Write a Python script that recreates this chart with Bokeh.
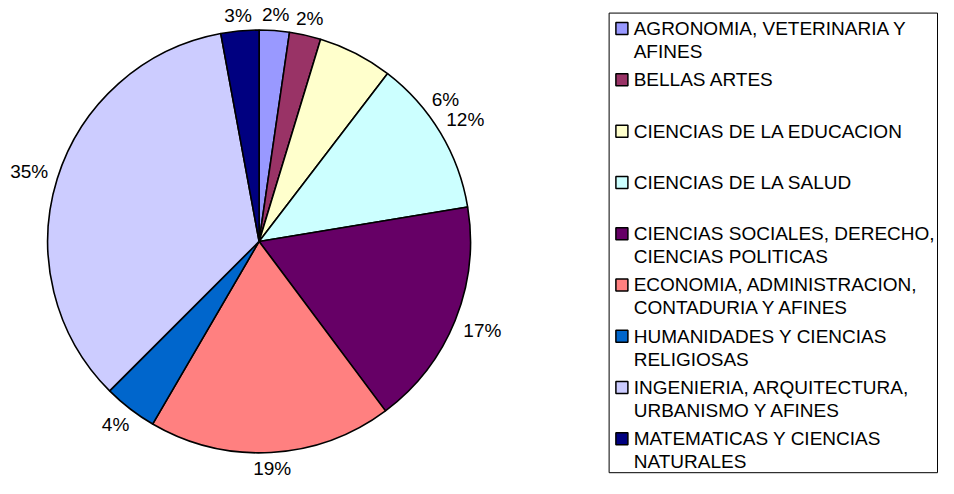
import math
from bokeh.plotting import figure
from bokeh.models import Range1d, ColumnDataSource
from bokeh.core.properties import value
from bokeh.embed import file_html
from bokeh.resources import INLINE

# ---- data ----
categories = [
    "AGRONOMIA, VETERINARIA Y\nAFINES",
    "BELLAS ARTES",
    "CIENCIAS DE LA EDUCACION",
    "CIENCIAS DE LA SALUD",
    "CIENCIAS SOCIALES, DERECHO,\nCIENCIAS POLITICAS",
    "ECONOMIA, ADMINISTRACION,\nCONTADURIA Y AFINES",
    "HUMANIDADES Y CIENCIAS\nRELIGIOSAS",
    "INGENIERIA, ARQUITECTURA,\nURBANISMO Y AFINES",
    "MATEMATICAS Y CIENCIAS\nNATURALES",
]
shares = [2.3, 2.4, 5.7, 12.0, 17.4, 18.6, 4.1, 34.6, 2.9]
colors = ["#9999FF", "#993366", "#FFFFCC", "#CCFFFF", "#660066",
          "#FF8080", "#0066CC", "#CCCCFF", "#000080"]
# label angular nudges (degrees) used by the original to avoid overlaps
label_nudge = [0, 0, 25, 0, 0, 0, 0, 0, 0]

# ---- geometry (units = reference pixels, y downward negated) ----
CX, CY, R = 263, -249, 215
FONT = value("Liberation Sans")

total = sum(shares)
starts, ends, mids = [], [], []
acc = 0.0
for s in shares:
    f0 = acc / total
    acc += s
    f1 = acc / total
    starts.append(math.pi / 2 - f0 * 2 * math.pi)
    ends.append(math.pi / 2 - f1 * 2 * math.pi)
    mids.append((f0 + f1) / 2 * 360)

labels = [f"{round(s / total * 100)}%" for s in shares]

p = figure(width=938, height=478, output_backend="svg", toolbar_location=None,
           x_range=Range1d(0, 954), y_range=Range1d(-494, 0),
           min_border=0)
p.axis.visible = False
p.grid.visible = False
p.outline_line_color = None
p.background_fill_color = "white"

src = ColumnDataSource(dict(start=starts, end=ends, color=colors))
p.wedge(x=CX, y=CY, radius=R, start_angle="start", end_angle="end",
        direction="clock", fill_color="color", line_color="black",
        line_width=1.6, source=src)

# percentage labels
lx, ly = [], []
for lab, m, nd in zip(labels, mids, label_nudge):
    a = math.radians(m + nd)
    w = len(lab) * 10.5
    r = R + 13 + abs(math.sin(a)) * w / 2 + abs(math.cos(a)) * 6
    lx.append(CX + r * math.sin(a))
    ly.append(CY + r * math.cos(a))
p.text(x=lx, y=ly, text=labels, text_font=FONT, text_font_size="19px",
       text_align="center", text_baseline="middle", text_color="black")

# legend (drawn by hand to match the original multi-line layout)
LX0, LX1, LY0, LY1 = 619, 953, -13, -488
p.quad(left=[LX0], right=[LX1], top=[LY0], bottom=[LY1],
       fill_color=None, line_color="black", line_width=1)
sq_y, tx, ty, tt = [], [], [], []
for i, cat in enumerate(categories):
    y0 = -(29 + i * 53)
    sq_y.append(y0)
    for j, line in enumerate(cat.split("\n")):
        tx.append(644)
        ty.append(y0 - j * 23.5)
        tt.append(line)
p.scatter(x=[632] * len(categories), y=sq_y, marker="square", size=12,
          fill_color=colors, line_color="black", line_width=1.5)
p.text(x=tx, y=ty, text=tt, text_font=FONT, text_font_size="19px",
       text_align="left", text_baseline="middle", text_color="black")

open("out.html", "w").write(file_html(p, INLINE))
